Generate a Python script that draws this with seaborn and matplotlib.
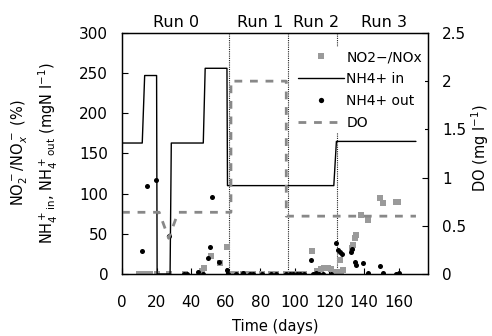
import matplotlib
matplotlib.use("Agg")
import matplotlib.pyplot as plt
from matplotlib.lines import Line2D
import seaborn as sns
import pandas as pd

sns.set_style("ticks")
plt.rcParams['font.family'] = ['DejaVu Sans']
plt.rcParams['mathtext.fontset'] = 'dejavusans'
plt.rcParams['axes.unicode_minus'] = True
plt.rcParams['text.color'] = 'black'
plt.rcParams['axes.labelcolor'] = 'black'

# ---------------- data ----------------
# NH4+ influent (step profile, mgN/l)
nh4_in_day = [0, 11.7, 13.1, 20.0, 20.3, 27.8, 28.5, 47.0, 48.1, 60.7, 61.0, 122.5, 124.0, 170]
nh4_in_val = [163, 163, 247, 247, 0, 0, 163, 163, 256, 256, 110, 110, 165, 165]

# DO (mg/l)
do_day = [0, 21.5, 27.0, 32.5, 63, 63, 95, 95, 170]
do_val = [0.64, 0.64, 0.37, 0.64, 0.64, 2.0, 2.0, 0.6, 0.6]

# NO2-/NOx (%)
nox_day = [10, 12, 14, 16, 20, 27, 36.5, 46, 47.5, 51.5, 56.5, 60.5,
           62.5, 66, 70, 72, 76, 81, 86, 89, 95, 97, 99, 101, 103, 105,
           110, 113, 115, 117, 119, 121, 123, 125.8, 126.5, 127.7,
           133, 133.5, 134.7, 135.2, 138.5, 142, 149.4, 151, 158.6, 159.7]
nox_val = [0, 0, 0, 0, 0, 0, 0, 4, 7, 22, 14, 33,
           0, 0, 0, 0, 0, 0, 0, 0, 0, 0, 0, 0, 0, 0,
           29, 4, 6, 7, 8, 6, 3, 17, 3, 5,
           32, 36, 45, 49, 73, 67, 94, 88, 90, 89]

# NH4+ effluent (mgN/l)
nh4_out_day = [11.4, 14.7, 19.5, 27.2, 36, 37.6, 44, 47, 49.5, 50.8, 51.8, 56.3, 60.7, 61.5,
               66, 70, 74, 76, 81, 86, 89, 95,
               97, 99, 101, 103, 105, 109.5, 110.5, 112, 114, 116, 121,
               123.7, 125, 126.2, 127.5, 132.5, 133.3, 134.5, 135.2, 139.2, 142.2, 149.5, 151, 158.6, 160]
nh4_out_val = [29, 110, 117, 47, 0, 0, 2, 0, 20, 33, 96, 15, 5, 0,
               0, 1, 0, 0, 0, 0, 0, 0,
               0, 0, 0, 0, 0, 17, 0, 1, 0, 0, 0,
               39, 30, 27, 25, 28, 31, 15, 11, 14, 1, 10, 1, 0, 1]

run_labels = ["Run 0", "Run 1", "Run 2", "Run 3"]
run_centers = [31.3, 80, 112, 151.5]
run_bounds = [62, 96, 124.5]

x_ticks = [0, 20, 40, 60, 80, 100, 120, 140, 160]
y_ticks = [0, 50, 100, 150, 200, 250, 300]
y2_ticks = [0, 0.5, 1, 1.5, 2, 2.5]

SQ_GRAY = '#9a9a9a'
DO_GRAY = '#888888'
FS = 11

# ---------------- figure ----------------
fig = plt.figure(figsize=(4.92, 3.36), dpi=100)
ax = fig.add_axes([0.248, 0.1845, 0.622, 0.7175])
ax2 = ax.twinx()

df_in = pd.DataFrame({"day": nh4_in_day, "val": nh4_in_val})
df_do = pd.DataFrame({"day": do_day, "val": do_val})
df_nox = pd.DataFrame({"day": nox_day, "val": nox_val})
df_out = pd.DataFrame({"day": nh4_out_day, "val": nh4_out_val})

for b in run_bounds:
    ax.axvline(b, color='#222222', lw=0.8, linestyle=(0, (1, 1)), zorder=1)

sns.scatterplot(data=df_nox, x="day", y="val", marker='s', color=SQ_GRAY, s=22,
                linewidth=0, ax=ax, legend=False, zorder=2)
sns.lineplot(data=df_in, x="day", y="val", sort=False, estimator=None, color='black',
             lw=1.0, ax=ax, legend=False, zorder=3)
sns.scatterplot(data=df_out, x="day", y="val", marker='o', color='black', s=13,
                linewidth=0, ax=ax, legend=False, zorder=4)
sns.lineplot(data=df_do, x="day", y="val", sort=False, estimator=None, color=DO_GRAY,
             lw=2.0, linestyle=(0, (2.8, 2.8)), ax=ax2, legend=False)

ax.set_xlim(0, 177)
ax.set_ylim(0, 300)
ax2.set_ylim(0, 2.5)
ax.set_xticks(x_ticks)
ax.set_yticks(y_ticks)
ax2.set_yticks(y2_ticks)
ax2.set_yticklabels(["0", "0.5", "1", "1.5", "2", "2.5"])
ax.set_xlabel("")
ax.set_ylabel("")
ax2.set_ylabel("")

for a in (ax, ax2):
    for s in a.spines.values():
        s.set_visible(True)
        s.set_color('black')
        s.set_linewidth(0.9)
ax.tick_params(axis='both', direction='in', length=4, width=0.8, labelsize=FS, colors='black')
ax.tick_params(axis='x', pad=15)
ax.tick_params(axis='y', pad=10)
ax2.tick_params(axis='y', direction='in', length=4, width=0.8, labelsize=FS, pad=10, colors='black')

# run labels
for lab, c in zip(run_labels, run_centers):
    ax.text(c, 1.045, lab, transform=ax.get_xaxis_transform(), ha='center', va='center',
            fontsize=11.5, color='black')

# axis labels
LFS = 10.5
fig.text(20/492, 1 - 153/336, r"NO$_2^-$/NO$_x^-$ (%)", rotation=90, ha='center', va='center', fontsize=LFS)
fig.text(48/492, 1 - 153/336, r"NH$_4^+{}_{\rm in}$, NH$_4^+{}_{\rm out}$ (mgN l$^{-1}$)", rotation=90,
         ha='center', va='center', fontsize=LFS)
fig.text(480/492, 1 - 148/336, r"DO (mg l$^{-1}$)", rotation=90, ha='center', va='center', fontsize=LFS)
fig.text(275/492, 1 - 326/336, "Time (days)", ha='center', va='center', fontsize=LFS)

handles = [
    Line2D([], [], marker='s', color=SQ_GRAY, linestyle='none', markersize=5, markeredgewidth=0),
    Line2D([], [], color='black', lw=1.0),
    Line2D([], [], marker='o', color='black', linestyle='none', markersize=3.8, markeredgewidth=0),
    Line2D([], [], color=DO_GRAY, lw=2.0, linestyle=(0, (2.8, 2.8))),
]
labels = ["NO2\u2212/NOx", "NH4+ in", "NH4+ out", "DO"]
leg = ax2.legend(handles, labels, loc='upper right', bbox_to_anchor=(0.99, 0.94),
                 fontsize=10, frameon=True, facecolor='white', edgecolor='none', framealpha=1,
                 handlelength=3.3, handletextpad=0.2, labelspacing=0.58, borderpad=0.2,
                 borderaxespad=0, fancybox=False)
for t in leg.get_texts():
    t.set_color('black')

fig.savefig("out.png", dpi=100)
